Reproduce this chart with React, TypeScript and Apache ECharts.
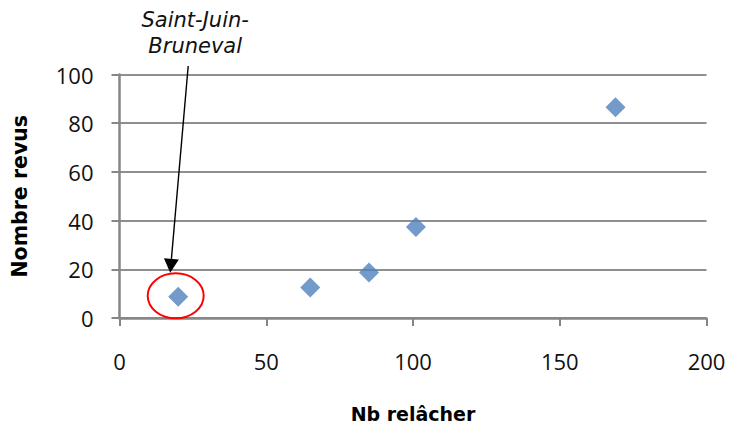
import React, { useEffect, useRef } from "react";
import * as echarts from "echarts";

const xValues = [20, 65, 85, 101, 169];
const yValues = [8.7, 12.5, 18.7, 37.4, 86.5];
const xTitle = "Nb relâcher";
const yTitle = "Nombre revus";
const calloutLines = ["Saint-Juin-", "Bruneval"];
const calloutIndex = 0;

export default function App() {
  const ref = useRef<HTMLDivElement>(null);
  useEffect(() => {
    if (!ref.current) return;
    const chart = echarts.init(ref.current, undefined, { renderer: "svg" });
    const font = "'DejaVu Sans', Verdana, sans-serif";
    const tickFont = "'Open Sans', 'DejaVu Sans', sans-serif";
    const data = xValues.map((x, i) => [x, yValues[i]]);
    chart.setOption({
      animation: false,
      backgroundColor: "#ffffff",
      grid: { left: 119.5, right: 22.5, top: 74.5, bottom: 109 },
      xAxis: {
        type: "value",
        min: 0,
        max: 200,
        interval: 50,
        name: xTitle,
        nameLocation: "middle",
        nameGap: 86,
        nameTextStyle: { fontFamily: font, fontWeight: "bold", fontSize: 19, color: "#000" },
        axisLine: { show: true, onZero: false, lineStyle: { color: "#868686", width: 2.5 } },
        axisTick: { show: true, length: 8, lineStyle: { color: "#868686", width: 2 } },
        axisLabel: { fontFamily: tickFont, fontSize: 22, color: "#111", margin: 32 },
        splitLine: { show: false },
      },
      yAxis: {
        type: "value",
        min: 0,
        max: 100,
        interval: 20,
        name: yTitle,
        nameLocation: "middle",
        nameGap: 89,
        nameTextStyle: { fontFamily: font, fontWeight: "bold", fontSize: 20.5, color: "#000" },
        axisLine: { show: true, lineStyle: { color: "#868686", width: 2.5 } },
        axisTick: { show: true, length: 8, lineStyle: { color: "#868686", width: 2 } },
        axisLabel: { fontFamily: tickFont, fontSize: 22, color: "#111", margin: 26 },
        splitLine: { show: true, lineStyle: { color: "#8f8f8f", width: 2 } },
      },
      series: [
        {
          type: "scatter",
          data,
          symbol: "diamond",
          symbolSize: 20,
          itemStyle: { color: "#4F81BD" },
          z: 5,
        },
      ],
    });

    const p = chart.convertToPixel({ gridIndex: 0 }, data[calloutIndex]) as number[];
    const tipX = p[0] - 8;
    const tipY = p[1] - 24;
    const startX = p[0] + 10;
    const startY = 66;
    const dx = tipX - startX;
    const dy = tipY - startY;
    const len = Math.sqrt(dx * dx + dy * dy);
    const ux = dx / len;
    const uy = dy / len;
    const headLen = 14;
    const headHalf = 7.5;
    const bx = tipX - ux * headLen;
    const by = tipY - uy * headLen;
    const nx = -uy;
    const ny = ux;

    chart.setOption({
      graphic: [
        {
          type: "ellipse",
          shape: { cx: p[0] - 2.5, cy: p[1] - 1, rx: 28, ry: 22.5 },
          style: { fill: "none", stroke: "#ff0000", lineWidth: 2 },
          z: 10,
        },
        {
          type: "line",
          shape: { x1: startX, y1: startY, x2: bx, y2: by },
          style: { stroke: "#000", lineWidth: 1.4 },
          z: 10,
        },
        {
          type: "polygon",
          shape: {
            points: [
              [tipX, tipY],
              [bx + nx * headHalf, by + ny * headHalf],
              [bx - nx * headHalf, by - ny * headHalf],
            ],
          },
          style: { fill: "#000" },
          z: 10,
        },
        {
          type: "text",
          x: p[0] + 17,
          y: 33,
          style: {
            text: calloutLines.join("\n"),
            fontFamily: font,
            fontStyle: "italic",
            fontSize: 21,
            lineHeight: 26,
            fill: "#111",
            align: "center",
            verticalAlign: "middle",
          },
          z: 10,
        },
      ],
    });
    return () => chart.dispose();
  }, []);
  return (
    <div
      ref={ref}
      style={{ position: "fixed", left: 0, top: 0, width: 729, height: 428 }}
    />
  );
}
